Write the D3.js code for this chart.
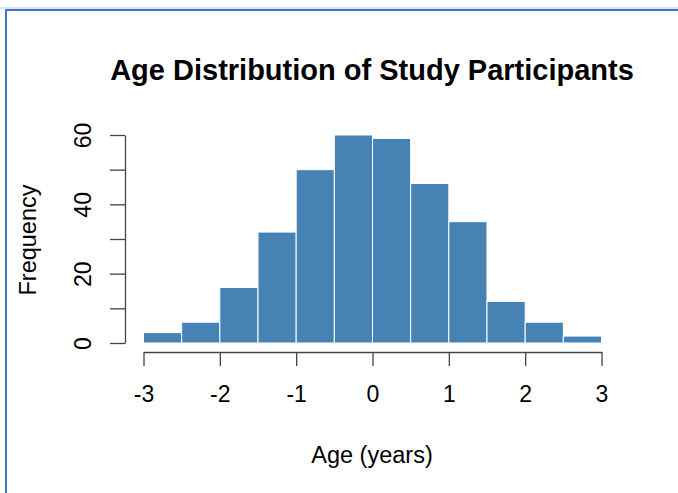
<!DOCTYPE html>
<html>
<head>
<meta charset="utf-8">
<script src="https://cdn.jsdelivr.net/npm/d3@7"></script>
<style>
  html, body { margin: 0; padding: 0; background: #fff; }
  svg { display: block; }
  text { font-family: "Liberation Sans", Arial, sans-serif; fill: #000; }
</style>
</head>
<body>
<script>
// ---- data ----
const binLo  = [-3, -2.5, -2, -1.5, -1, -0.5, 0, 0.5, 1, 1.5, 2, 2.5];
const binHi  = [-2.5, -2, -1.5, -1, -0.5, 0, 0.5, 1, 1.5, 2, 2.5, 3];
const counts = [3, 6, 16, 32, 50, 60, 59, 46, 35, 12, 6, 2];
const xTicks = [-3, -2, -1, 0, 1, 2, 3];
const yTicks = [0, 10, 20, 30, 40, 50, 60];
const yTickLabels = [0, 20, 40, 60];
const titleText = "Age Distribution of Study Participants";
const xLabel = "Age (years)";
const yLabel = "Frequency";

const W = 678, H = 493;
const svg = d3.select("body").append("svg").attr("width", W).attr("height", H);

// frame border (blue, partially visible)
svg.append("line").attr("x1", 0).attr("x2", W).attr("y1", 8).attr("y2", 8)
  .attr("stroke", "#b4c7e7").attr("stroke-width", 1);
svg.append("line").attr("x1", 5).attr("x2", W).attr("y1", 10).attr("y2", 10)
  .attr("stroke", "#4472c4").attr("stroke-width", 2);
svg.append("line").attr("x1", 6).attr("x2", 6).attr("y1", 9).attr("y2", H)
  .attr("stroke", "#4472c4").attr("stroke-width", 2);

const x = d3.scaleLinear().domain([-3, 3]).range([143.5, 601.5]);
const y = d3.scaleLinear().domain([0, 60]).range([343, 135]);

// bars
svg.append("g").selectAll("rect").data(counts).join("rect")
  .attr("x", (d, i) => x(binLo[i]))
  .attr("width", (d, i) => x(binHi[i]) - x(binLo[i]))
  .attr("y", d => y(d))
  .attr("height", d => y(0) - y(d))
  .attr("fill", "#4682b4")
  .attr("stroke", "#ffffff")
  .attr("stroke-width", 1);

// x axis
const xAxis = svg.append("g").attr("transform", "translate(0,352)")
  .call(d3.axisBottom(x).tickValues(xTicks).tickSize(14).tickSizeOuter(0).tickPadding(20)
    .tickFormat(d => d < 0 ? "-" + Math.abs(d) : d));
xAxis.select(".domain").attr("stroke", "#444").attr("stroke-width", 1.3);
xAxis.selectAll(".tick line").attr("stroke", "#444").attr("stroke-width", 1.3);
xAxis.selectAll(".tick text").attr("font-size", 23).attr("fill", "#000")
  .attr("font-family", "Liberation Sans, Arial, sans-serif")
  .attr("dy", "0.71em");

// y axis
const yAxis = svg.append("g").attr("transform", "translate(125,0)")
  .call(d3.axisLeft(y).tickValues(yTicks).tickSize(15).tickSizeOuter(0)
    .tickFormat(d => yTickLabels.includes(d) ? d : ""));
yAxis.select(".domain").attr("stroke", "#444").attr("stroke-width", 1.3);
yAxis.selectAll(".tick line").attr("stroke", "#444").attr("stroke-width", 1.3);
yAxis.selectAll(".tick text")
  .attr("font-size", 23).attr("fill", "#000")
  .attr("font-family", "Liberation Sans, Arial, sans-serif")
  .attr("x", null).attr("dy", null)
  .attr("text-anchor", "middle")
  .attr("transform", "translate(-34,0) rotate(-90)");

// title
svg.append("text").attr("x", 372).attr("y", 80)
  .attr("text-anchor", "middle").attr("font-size", 29).attr("font-weight", "bold")
  .text(titleText);

// axis labels
svg.append("text").attr("x", 372).attr("y", 463)
  .attr("text-anchor", "middle").attr("font-size", 23.5)
  .text(xLabel);
svg.append("text").attr("transform", "translate(36,240) rotate(-90)")
  .attr("text-anchor", "middle").attr("font-size", 23.5)
  .text(yLabel);
</script>
</body>
</html>
